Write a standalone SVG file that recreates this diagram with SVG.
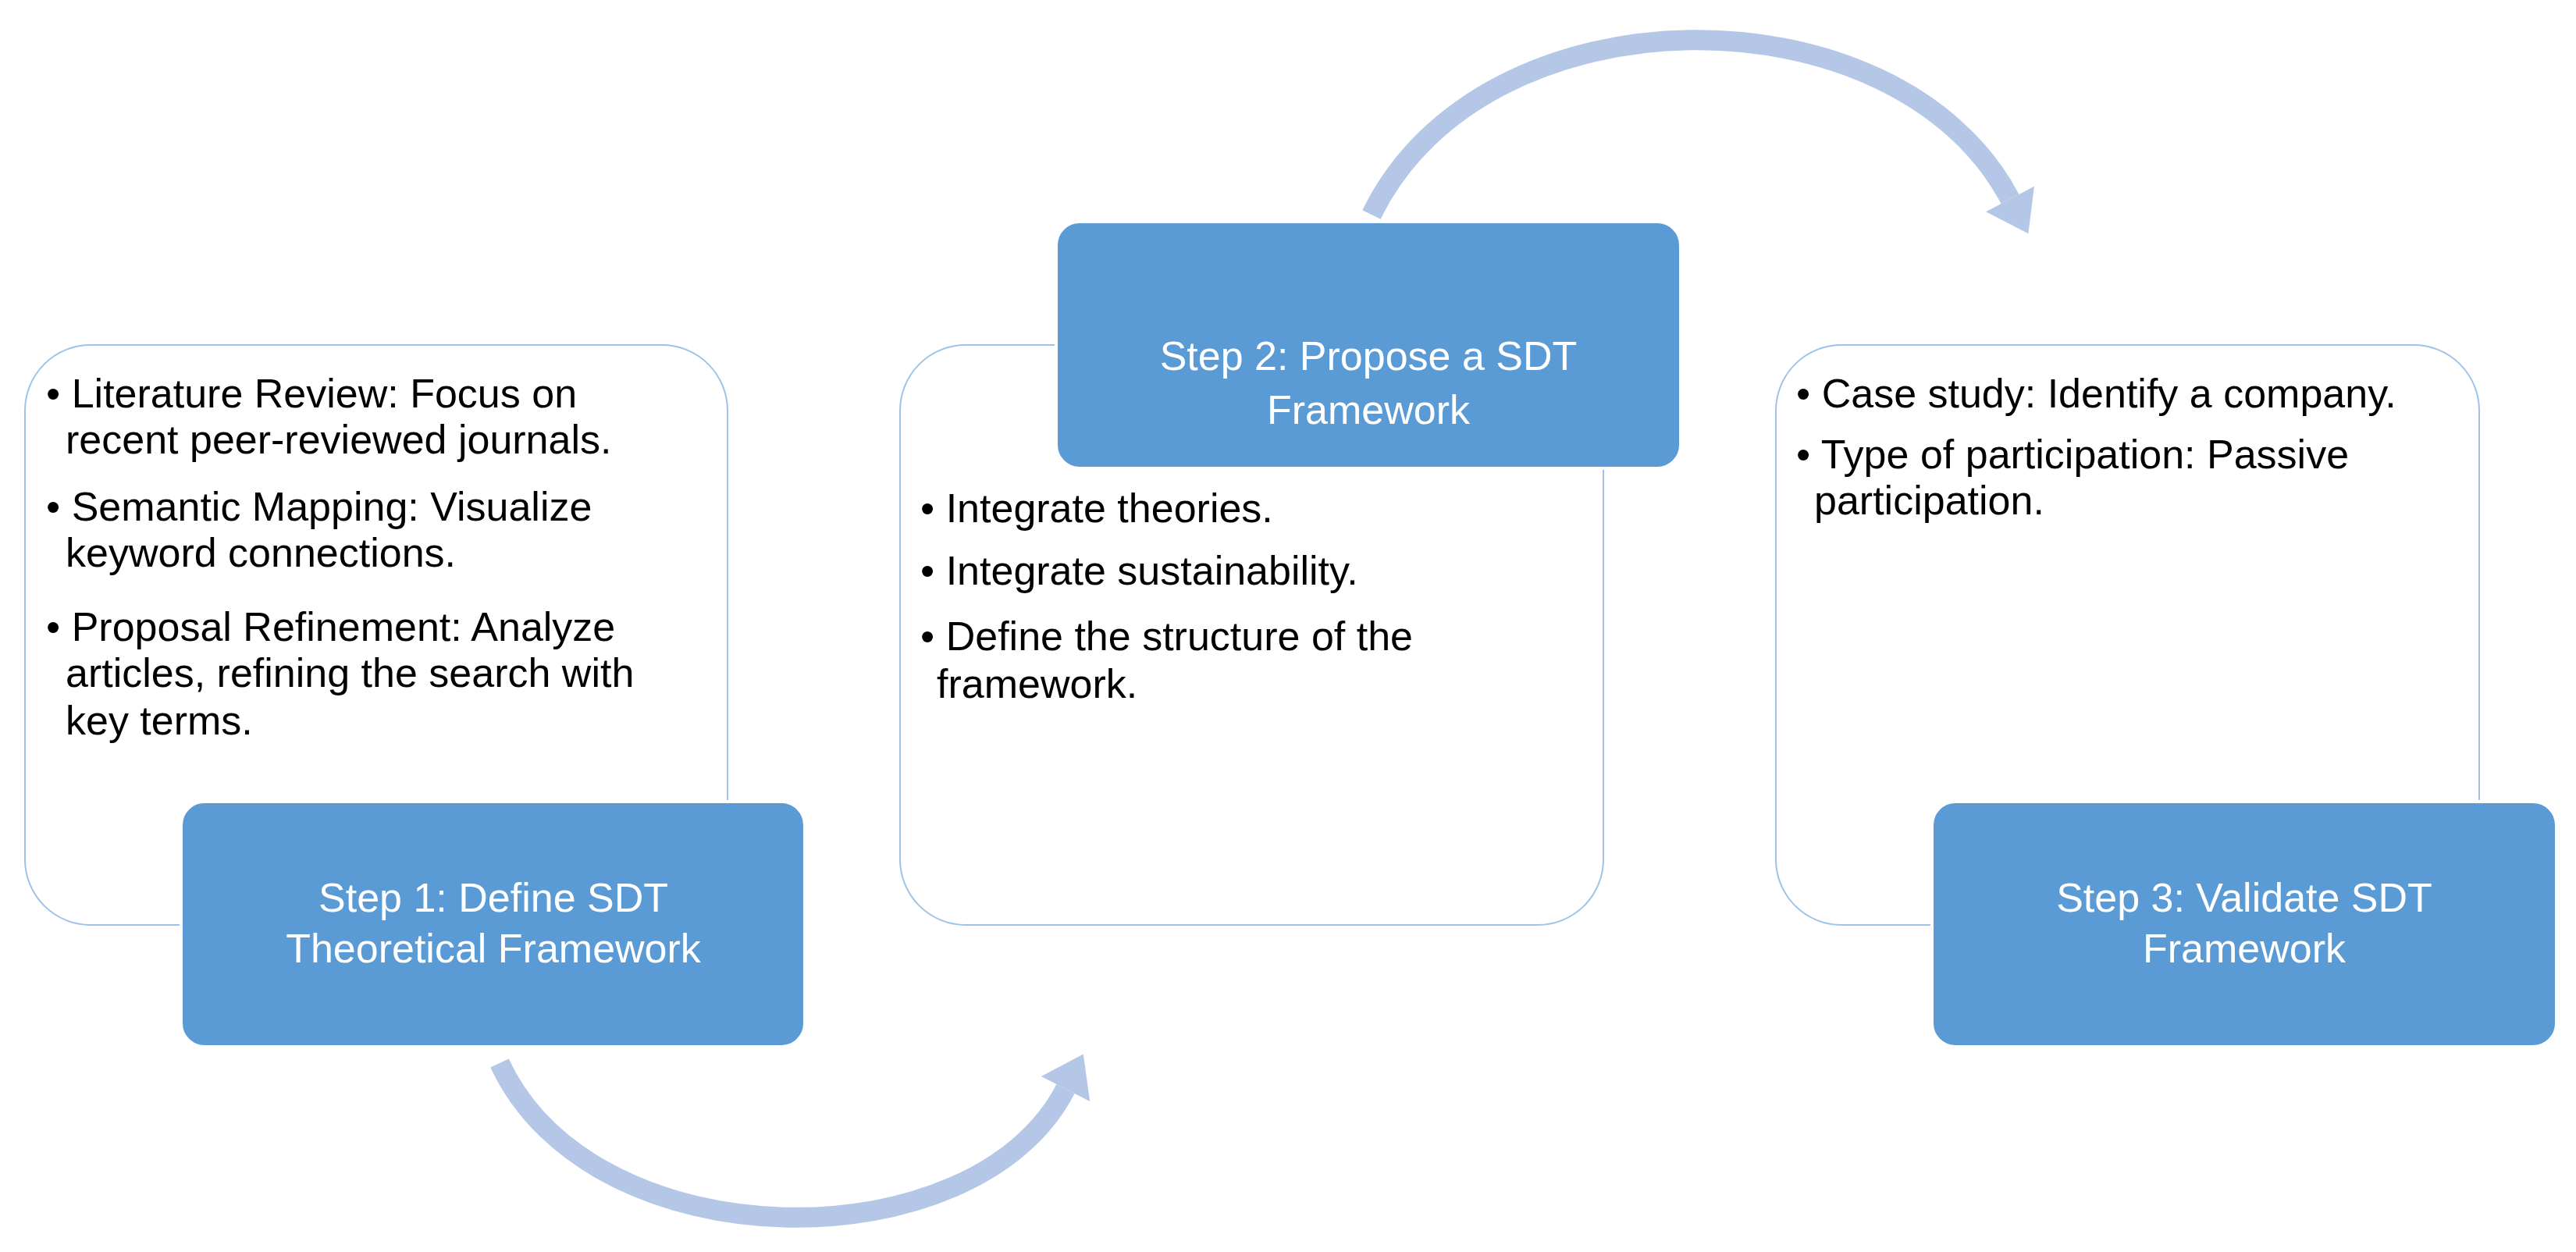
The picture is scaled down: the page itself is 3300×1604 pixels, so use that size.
<svg xmlns="http://www.w3.org/2000/svg" width="3300" height="1604" viewBox="0 0 3300 1604">
<style>
.card{fill:#fff;stroke:#9DC3E6;stroke-width:2}
.step{fill:#5B9BD5;stroke:#fff;stroke-width:4}
.t{font-family:"Liberation Sans",Arial,sans-serif;font-size:52px;fill:#000}
.s{font-family:"Liberation Sans",Arial,sans-serif;font-size:52px;fill:#fff;text-anchor:middle}
.arc{fill:none;stroke:#B4C7E7;stroke-width:26}
</style>
<defs>
<marker id="ah" markerUnits="userSpaceOnUse" markerWidth="80" markerHeight="80" refX="10" refY="40" orient="auto" viewBox="0 0 80 80">
<path d="M10 5 L60 40 L10 75 Z" fill="#B4C7E7"/>
</marker>
</defs>
<g id="connectors">
<path class="arc" d="M640 1362 C760 1620 1250 1620 1365 1395" marker-end="url(#ah)"/>
<path class="arc" d="M1757 275 C1900 -20 2430 -20 2575 255" marker-end="url(#ah)"/>
</g>
<g id="card1">
<rect class="card" x="32" y="442" width="900" height="743" rx="84"/>
<text class="t" x="59" y="522">• Literature Review: Focus on</text>
<text class="t" x="84" y="581">recent peer-reviewed journals.</text>
<text class="t" x="59" y="667">• Semantic Mapping: Visualize</text>
<text class="t" x="84" y="726">keyword connections.</text>
<text class="t" x="59" y="821">• Proposal Refinement: Analyze</text>
<text class="t" x="84" y="880">articles, refining the search with</text>
<text class="t" x="84" y="941">key terms.</text>
</g>
<g id="step1">
<rect class="step" x="232" y="1027" width="799" height="314" rx="30"/>
<text class="s" x="632" y="1168">Step 1: Define SDT</text>
<text class="s" x="632" y="1233">Theoretical Framework</text>
</g>
<g id="card2">
<rect class="card" x="1153" y="442" width="901" height="743" rx="84"/>
<text class="t" x="1179" y="669">• Integrate theories.</text>
<text class="t" x="1179" y="749">• Integrate sustainability.</text>
<text class="t" x="1179" y="833">• Define the structure of the</text>
<text class="t" x="1200" y="894">framework.</text>
</g>
<g id="step2">
<rect class="step" x="1353" y="284" width="800" height="316" rx="30"/>
<text class="s" x="1753" y="474">Step 2: Propose a SDT</text>
<text class="s" x="1753" y="543">Framework</text>
</g>
<g id="card3">
<rect class="card" x="2275" y="442" width="901" height="743" rx="84"/>
<text class="t" x="2301" y="522">• Case study: Identify a company.</text>
<text class="t" x="2301" y="600">• Type of participation: Passive</text>
<text class="t" x="2324" y="659">participation.</text>
</g>
<g id="step3">
<rect class="step" x="2475" y="1027" width="800" height="314" rx="30"/>
<text class="s" x="2875" y="1168">Step 3: Validate SDT</text>
<text class="s" x="2875" y="1233">Framework</text>
</g>
</svg>
